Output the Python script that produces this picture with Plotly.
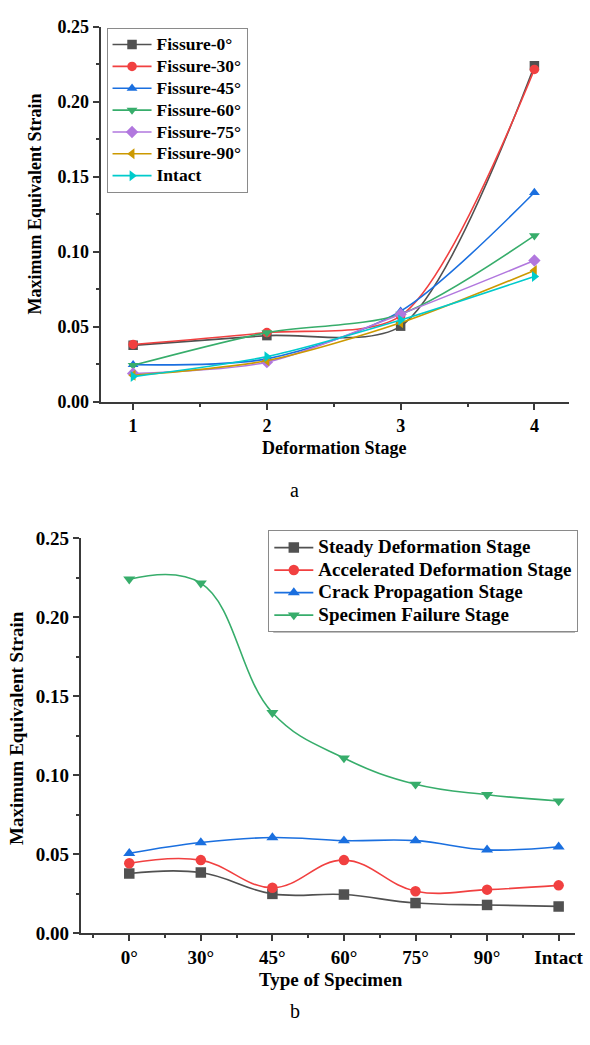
import plotly.graph_objects as go

# ---------------- data ----------------
specimens = ["0°", "30°", "45°", "60°", "75°", "90°", "Intact"]
fissure_names = ["Fissure-0°", "Fissure-30°", "Fissure-45°", "Fissure-60°",
                 "Fissure-75°", "Fissure-90°", "Intact"]
stages = [1, 2, 3, 4]
stage_names = ["Steady Deformation Stage", "Accelerated Deformation Stage",
               "Crack Propagation Stage", "Specimen Failure Stage"]

steady = [0.0377, 0.0383, 0.0248, 0.0244, 0.0190, 0.0178, 0.0169]
accelerated = [0.0442, 0.0462, 0.0287, 0.0462, 0.0265, 0.0275, 0.0302]
crack = [0.0505, 0.0573, 0.0605, 0.0585, 0.0585, 0.0527, 0.0546]
failure = [0.2240, 0.2215, 0.1395, 0.1108, 0.0942, 0.0876, 0.0836]

# ---------------- style ----------------
W, H = 590, 1045
colors = ["#515151", "#F14040", "#1A6FDF", "#37AD6B", "#B177DE", "#CC9900", "#00CBCC"]
symbols = ["square", "circle", "triangle-up", "triangle-down", "diamond",
           "triangle-left", "triangle-right"]
FONT = "Liberation Serif"
AX = "#3a3a3a"


def px(x):
    return x / W


def py(y):
    return 1 - y / H


def big(name, size):
    return '<span style="font-size:%spx">%s</span>' % (size, name)


fig = go.Figure()

stage_series = [steady, accelerated, crack, failure]

# top chart: one line per specimen across stages
for i, name in enumerate(fissure_names):
    yvals = [s[i] for s in stage_series]
    fig.add_trace(go.Scatter(
        x=stages, y=yvals, name=big(name, 17.5), mode="lines+markers",
        line=dict(color=colors[i], width=1.6, shape="spline", smoothing=0.8),
        marker=dict(symbol=symbols[i], size=9.5, color=colors[i]),
        xaxis="x", yaxis="y", legend="legend"))

# bottom chart: one line per stage across specimens
for j, name in enumerate(stage_names):
    fig.add_trace(go.Scatter(
        x=list(range(len(specimens))), y=stage_series[j], name=big(name, 19),
        mode="lines+markers",
        line=dict(color=colors[j], width=1.6, shape="spline", smoothing=1.15),
        marker=dict(symbol=symbols[j], size=10.5, color=colors[j]),
        xaxis="x2", yaxis="y2", legend="legend2"))


def common(fs):
    return dict(showline=True, linecolor=AX, linewidth=2, showgrid=False,
                zeroline=False, ticks="outside", ticklen=6, tickwidth=2,
                tickcolor=AX, ticklabeloverflow="allow",
                tickfont=dict(family=FONT, size=fs, color="black", weight="bold"))


def minor_lin(t0, dt):
    return dict(ticks="outside", ticklen=3, tickwidth=2, tickcolor=AX,
                tickmode="linear", tick0=t0, dtick=dt)


fig.update_layout(
    width=W, height=H, margin=dict(l=0, r=0, t=0, b=0),
    paper_bgcolor="white", plot_bgcolor="white",
    showlegend=True,
    xaxis=dict(domain=[px(102), px(577)], range=[0.757, 4.26], anchor="y",
               tickmode="linear", tick0=1, dtick=1,
               minor=minor_lin(0.5, 0.5), **common(18)),
    yaxis=dict(domain=[py(400), py(17)], range=[0, 0.25], anchor="x",
               tickmode="linear", tick0=0, dtick=0.05, tickformat=".2f",
               minor=minor_lin(0, 0.025), **common(18)),
    xaxis2=dict(domain=[px(82), px(583)], range=[-0.676, 6.23], anchor="y2",
                tickmode="array", tickvals=list(range(len(specimens))),
                ticktext=specimens,
                minor=dict(ticks="outside", ticklen=3, tickwidth=2, tickcolor=AX,
                           tickmode="array",
                           tickvals=[k - 0.5 for k in range(len(specimens))]),
                **common(19)),
    yaxis2=dict(domain=[py(942), py(539)], range=[0, 0.25], anchor="x2",
                tickmode="linear", tick0=0, dtick=0.05, tickformat=".2f",
                minor=minor_lin(0, 0.025), **common(19)),
    legend=dict(x=px(108), y=py(18), xanchor="left", yanchor="top",
                bgcolor="white", bordercolor="#8a8a8a", borderwidth=1,
                itemwidth=39,
                font=dict(family=FONT, size=14.5, color="black", weight="bold"),
                tracegroupgap=0),
    legend2=dict(x=px(272), y=py(531), xanchor="left", yanchor="top",
                 bgcolor="white", bordercolor="#8a8a8a", borderwidth=1,
                 itemwidth=39,
                 font=dict(family=FONT, size=15, color="black", weight="bold"),
                 tracegroupgap=0),
)

# legend drop shadows
shadows = [(113, 23, 251, 184), (277, 536, 583, 635)]
for (x0, y0, x1, y1) in shadows:
    fig.add_shape(type="rect", xref="paper", yref="paper",
                  x0=px(x0), x1=px(x1), y0=py(y1), y1=py(y0),
                  fillcolor="black", line=dict(width=0), layer="above")

annos = [
    dict(text="Deformation Stage", x=px(339), y=py(447), textangle=0, size=18),
    dict(text="Maximum Equivalent Strain", x=px(35), y=py(198), textangle=-90, size=18),
    dict(text="Type of Specimen", x=px(336), y=py(989), textangle=0, size=19),
    dict(text="Maximum Equivalent Strain", x=px(16), y=py(733), textangle=-90, size=19),
]
for a in annos:
    fs = a.pop("size")
    fig.add_annotation(xref="paper", yref="paper", xanchor="center",
                       yanchor="middle", showarrow=False,
                       font=dict(family=FONT, size=fs, color="black", weight="bold"),
                       **a)

for lab, y in [("a", 490), ("b", 1022)]:
    fig.add_annotation(text=lab, xref="paper", yref="paper", x=px(299), y=py(y),
                       xanchor="center", yanchor="middle", showarrow=False,
                       font=dict(family=FONT, size=20, color="black"))

fig.write_html("out.html")
